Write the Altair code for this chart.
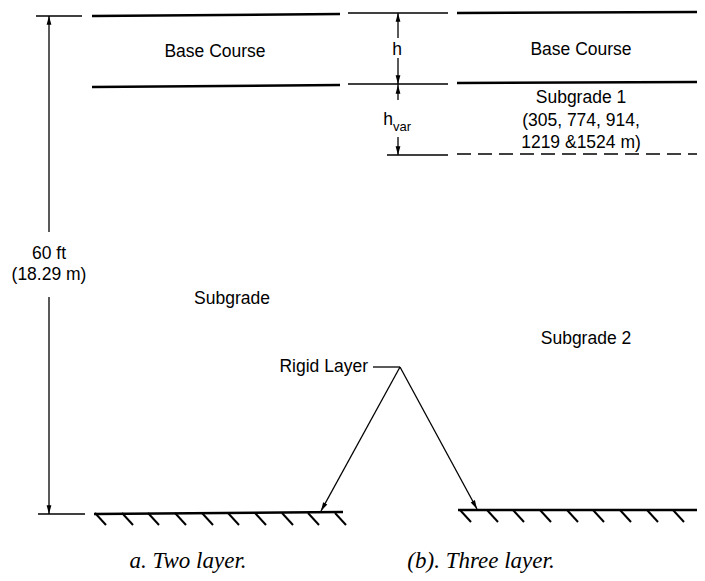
import altair as alt
import pandas as pd

# ---- diagram geometry (image pixel coordinates) ----
# thick layer boundaries: x1, y1, x2, y2
thick_x1 = [92, 457, 92, 457, 94, 458]
thick_y1 = [16, 13, 87, 83, 514, 510]
thick_x2 = [340, 705, 340, 705, 343, 705]
thick_y2 = [14, 12, 85, 82, 512, 510]

# thin dimension / leader lines
thin_x1 = [36, 38, 49, 49, 348, 348, 387, 398, 398, 398, 398, 373, 400, 400]
thin_y1 = [16, 514, 16, 297, 13, 84, 155, 13, 58, 84, 137, 367, 367, 367]
thin_x2 = [82, 85, 49, 49, 448, 448, 448, 398, 398, 398, 398, 400, 321, 477]
thin_y2 = [16, 514, 232, 514, 13, 84, 155, 38, 84, 100, 155, 367, 511, 509]

# dashed bottom of subgrade 1
dash_x1, dash_y1, dash_x2, dash_y2 = [457], [154], [705], [154]

# hatch ticks under rigid layer
hatch_left_x = [95, 122, 148, 175, 202, 228, 255, 282, 308, 335]
hatch_right_x = [460, 487, 513, 540, 567, 593, 620, 647, 673, 700]

# arrow heads: tip x, tip y, angle
arrow_x = [49, 49, 398, 398, 398, 398, 321, 477]
arrow_y = [16, 514, 13, 84, 85, 155, 511, 509]
arrow_a = [0, 180, 0, 180, 0, 180, 208.7, 151.5]

# labels (centered)
lab_text = ["Base Course", "Base Course", "h", "Subgrade 1", "(305, 774, 914,",
            "1219 &1524 m)", "60 ft", "(18.29 m)", "Subgrade", "Subgrade 2", "h"]
lab_x = [215, 581, 397, 581, 581, 581, 49, 49, 232, 586, 388]
lab_y = [57, 55, 55, 103, 126, 148, 259, 280, 304, 344, 125]

rl_text, rl_x, rl_y = ["Rigid Layer"], [368], [372]
sub_text, sub_x, sub_y = ["var"], [393], [131]

cap_text = ["a. Two layer.", "(b). Three layer."]
cap_x = [188, 481]
cap_y = [568, 568]

# ---- build tables ----
segs = pd.DataFrame({
    "x": thick_x1 + thin_x1, "y": thick_y1 + thin_y1,
    "x2": thick_x2 + thin_x2, "y2": thick_y2 + thin_y2,
    "w": [2.6] * len(thick_x1) + [1.3] * len(thin_x1),
})
hx, hy, hx2, hy2 = [], [], [], []
for v in hatch_left_x:
    hx.append(v); hy.append(513); hx2.append(v + 11); hy2.append(525)
for v in hatch_right_x:
    hx.append(v); hy.append(510); hx2.append(v + 11); hy2.append(522)
hatch = pd.DataFrame({"x": hx, "y": hy, "x2": hx2, "y2": hy2})
dash = pd.DataFrame({"x": dash_x1, "y": dash_y1, "x2": dash_x2, "y2": dash_y2})
arrows = pd.DataFrame({"x": arrow_x, "y": arrow_y, "a": arrow_a})
labels = pd.DataFrame({"x": lab_x, "y": lab_y, "t": lab_text})
rl = pd.DataFrame({"x": rl_x, "y": rl_y, "t": rl_text})
sub = pd.DataFrame({"x": sub_x, "y": sub_y, "t": sub_text})
caps = pd.DataFrame({"x": cap_x, "y": cap_y, "t": cap_text})

X = alt.Scale(domain=[8, 697], nice=False, zero=False)
Y = alt.Scale(domain=[8, 573], nice=False, zero=False, reverse=True)
xe = alt.X("x:Q", scale=X, axis=None)
ye = alt.Y("y:Q", scale=Y, axis=None)

lines = alt.Chart(segs).mark_rule(color="black", strokeCap="butt").encode(
    x=xe, y=ye, x2="x2:Q", y2="y2:Q",
    strokeWidth=alt.StrokeWidth("w:Q", scale=None),
)
hatches = alt.Chart(hatch).mark_rule(color="black", strokeWidth=2).encode(
    x=xe, y=ye, x2="x2:Q", y2="y2:Q")
dashed = alt.Chart(dash).mark_rule(color="black", strokeWidth=1.5, strokeDash=[14, 7]).encode(
    x=xe, y=ye, x2="x2:Q", y2="y2:Q")
heads = alt.Chart(arrows).mark_point(
    shape="M0,0L-0.6,2.2L0.6,2.2Z", filled=True, color="black", opacity=1, size=64
).encode(x=xe, y=ye, angle=alt.Angle("a:Q", scale=None))

font = "Liberation Sans"
txt = alt.Chart(labels).mark_text(font=font, fontSize=17.5, align="center",
                                  baseline="alphabetic", color="black").encode(
    x=xe, y=ye, text="t:N")
rigid = alt.Chart(rl).mark_text(font=font, fontSize=17.5, align="right",
                                baseline="alphabetic", color="black").encode(
    x=xe, y=ye, text="t:N")
subs = alt.Chart(sub).mark_text(font=font, fontSize=13, align="left",
                                baseline="alphabetic", color="black").encode(
    x=xe, y=ye, text="t:N")
captions = alt.Chart(caps).mark_text(font="Liberation Serif", fontStyle="italic",
                                     fontSize=23, align="center",
                                     baseline="alphabetic", color="black").encode(
    x=xe, y=ye, text="t:N")

chart = alt.layer(lines, hatches, dashed, heads, txt, rigid, subs, captions).properties(
    width=689, height=565, padding=0, autosize=alt.AutoSizeParams(type="none"),
    background="white",
).configure_view(stroke=None)

chart.save("out.html", embed_options={"renderer": "svg", "actions": False})
